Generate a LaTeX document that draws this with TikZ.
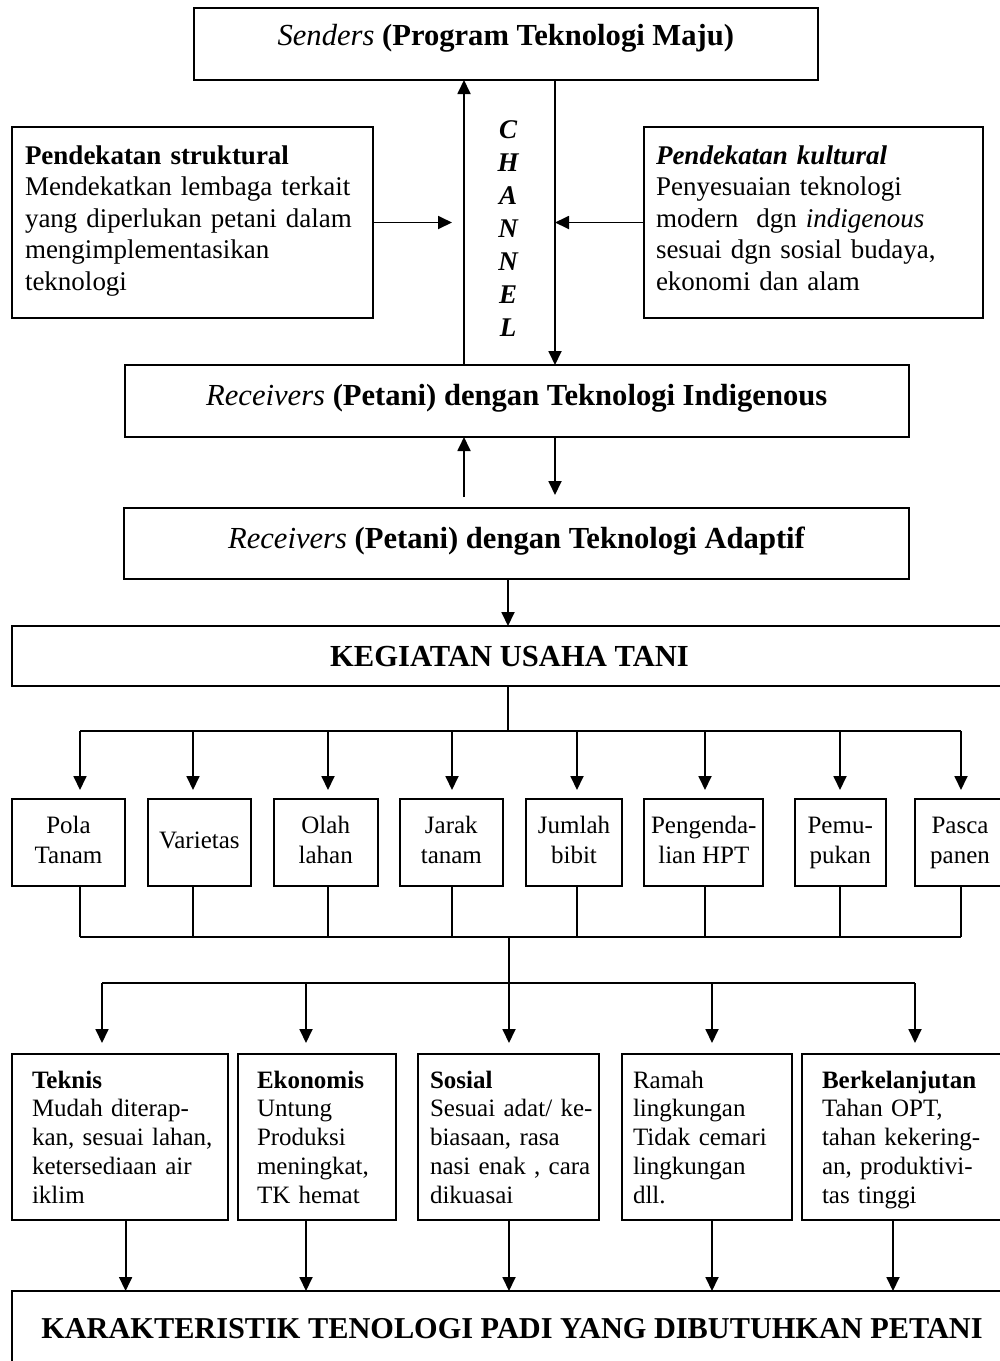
\documentclass[tikz,border=0pt]{standalone}
\usepackage{fontspec}
\setmainfont{Liberation Serif}
\usetikzlibrary{arrows.meta}
\newcommand\hstr[1]{\rule{0pt}{#1}}
\newcommand\dstr[1]{\rule[-#1]{0pt}{#1}}
\newcommand\ml[1]{\mbox{#1}}
\begin{document}
\begin{tikzpicture}[x=1pt,y=-1pt,
  bx/.style={draw, line width=2pt, inner sep=0pt, outer sep=0pt},
  hd/.style={bx, font=\fontsize{30.6}{34}\selectfont\bfseries, text height=21pt},
  sd/.style={bx, font=\fontsize{27}{31.5}\selectfont, align=left, minimum height=191pt},
  sm/.style={bx, font=\fontsize{25}{30}\selectfont, align=center, minimum height=87pt},
  bt/.style={bx, font=\fontsize{25}{28.75}\selectfont, align=left, minimum height=166pt},
  ln/.style={line width=1.8pt},
  arr/.style={ln, -{Triangle[length=14pt,width=13pt]}},
]
\useasboundingbox (0,0) rectangle (1000,1361);
\clip (0,0) rectangle (1000,1361);

% header boxes
\node[hd, text depth=19pt, minimum width=624.4pt, minimum height=72pt] (snd) at (505.8,44)
  {{\mdseries\itshape Senders} (Program Teknologi Maju)};
\node[hd, text depth=13pt, minimum width=784.5pt, minimum height=72pt] (ind) at (516.75,401)
  {{\mdseries\itshape Receivers} (Petani) dengan Teknologi Indigenous};
\node[hd, text depth=12pt, minimum width=785pt, minimum height=71pt] (adp) at (516.5,543.5)
  {{\mdseries\itshape Receivers} (Petani) dengan Teknologi Adaptif};
\node[hd, text depth=0pt, minimum width=996pt, minimum height=60pt] (keg) at (509.5,656)
  {KEGIATAN USAHA TANI};
\node[hd, font=\fontsize{30.3}{34}\selectfont\bfseries, text height=21pt, text depth=16pt,
  minimum width=1000pt, minimum height=89pt] (kar) at (512,1335.5)
  {KARAKTERISTIK TENOLOGI PADI YANG DIBUTUHKAN PETANI};

% side boxes
\node[sd, inner xsep=13pt, text width=335pt, minimum width=361pt] (lbox) at (192.5,222.5)
  {\hstr{22pt}\ml{\textbf{Pendekatan struktural}}\\ \ml{Mendekatkan lembaga terkait}\\
   \ml{yang diperlukan petani dalam}\\ \ml{mengimplementasikan}\\ \ml{teknologi}\dstr{13pt}};
\node[sd, inner xsep=12pt, text width=315pt, minimum width=339pt] (rbox) at (813.5,222.5)
  {\hstr{22pt}\ml{\textbf{\textit{Pendekatan kultural}}}\\ \ml{Penyesuaian teknologi}\\
   \ml{modern\ \ dgn \textit{indigenous}}\\ \ml{sesuai dgn sosial budaya,}\\ \ml{ekonomi dan alam}\dstr{13pt}};

% channel
\node[font=\fontsize{27}{33}\selectfont\bfseries\itshape, align=center, inner sep=0pt] (chn)
  at (508,229) {C\\H\\A\\N\\N\\E\\L};

% small boxes
\node[sm, minimum width=113.6pt] (s1) at (68.5,842.5) {\hstr{20pt}Pola\\Tanam\dstr{9pt}};
\node[sm, minimum width=103.3pt] (s2) at (199.35,842.5) {\hstr{20pt}Varietas\dstr{9pt}};
\node[sm, minimum width=104pt] (s3) at (325.7,842.5) {\hstr{20pt}Olah\\lahan\dstr{9pt}};
\node[sm, minimum width=103.3pt] (s4) at (451.35,842.5) {\hstr{20pt}Jarak\\tanam\dstr{9pt}};
\node[sm, minimum width=96pt] (s5) at (574,842.5) {\hstr{20pt}Jumlah\\bibit\dstr{9pt}};
\node[sm, minimum width=119pt] (s6) at (703.8,842.5) {\hstr{20pt}Pengenda-\\lian HPT\dstr{9pt}};
\node[sm, minimum width=91pt] (s7) at (840.2,842.5) {\hstr{20pt}Pemu-\\pukan\dstr{9pt}};
\node[sm, minimum width=90pt] (s8) at (960,842.5) {\hstr{20pt}Pasca\\panen\dstr{9pt}};

% bottom boxes
\node[bt, inner xsep=20pt, text width=176pt, minimum width=216pt] (b1) at (120,1137)
  {\hstr{23pt}\ml{\textbf{Teknis}}\\ \ml{Mudah diterap-}\\ \ml{kan, sesuai lahan,}\\ \ml{ketersediaan air}\\ \ml{iklim}\dstr{6pt}};
\node[bt, inner xsep=19pt, text width=120pt, minimum width=158pt] (b2) at (317,1137)
  {\hstr{23pt}\ml{\textbf{Ekonomis}}\\ \ml{Untung}\\ \ml{Produksi}\\ \ml{meningkat,}\\ \ml{TK hemat}\dstr{6pt}};
\node[bt, inner xsep=12pt, text width=157pt, minimum width=181pt] (b3) at (508.5,1137)
  {\hstr{23pt}\ml{\textbf{Sosial}}\\ \ml{Sesuai adat/ ke-}\\ \ml{biasaan, rasa}\\ \ml{nasi enak , cara}\\ \ml{dikuasai}\dstr{6pt}};
\node[bt, inner xsep=11pt, text width=148pt, minimum width=170pt] (b4) at (707,1137)
  {\hstr{23pt}\ml{Ramah}\\ \ml{lingkungan}\\ \ml{Tidak cemari}\\ \ml{lingkungan}\\ \ml{dll.}\dstr{6pt}};
\node[bt, inner xsep=20pt, text width=168pt, minimum width=208pt] (b5) at (906,1137)
  {\hstr{23pt}\ml{\textbf{Berkelanjutan}}\\ \ml{Tahan OPT,}\\ \ml{tahan kekering-}\\ \ml{an, produktivi-}\\ \ml{tas tinggi}\dstr{6pt}};

% channel connectors
\coordinate (cu) at (464,0);
\coordinate (cd) at (555,0);
\coordinate (lt) at (452,0);
\draw[arr] (ind.north -| cu) -- (snd.south -| cu);
\draw[arr] (snd.south -| cd) -- (ind.north -| cd);
\draw[arr] (lbox.east) -- (lbox.east -| lt);
\draw[arr] (rbox.west) -- (rbox.west -| cd);
\draw[arr, shorten <=11pt] (adp.north -| cu) -- (ind.south -| cu);
\draw[arr, shorten >=13pt] (ind.south -| cd) -- (adp.north -| cd);

% to kegiatan
\coordinate (m1) at (508,0);
\draw[arr] (adp.south -| m1) -- (keg.north -| m1);

% distribution to small boxes
\coordinate (bar1) at (0,731);
\draw[ln] (keg.south -| m1) -- (bar1 -| m1);
\foreach \i/\x in {1/80,2/193,3/328,4/452,5/577,6/705,7/840,8/961}{
  \coordinate (t\i) at (\x,731);
  \coordinate (u\i) at (\x,937);
}
\draw[ln] (t1) -- (t8);
\draw[ln] (u1) -- (u8);
\foreach \i in {1,...,8}{
  \draw[arr, shorten >=9pt] (t\i) -- (t\i |- s\i.north);
  \draw[ln] (t\i |- s\i.south) -- (u\i);
}

% distribution to bottom boxes
\coordinate (uc) at (509,937);
\draw[arr, shorten >=11pt] (uc) -- (uc |- b3.north);
\foreach \i/\x in {1/102,2/306,4/712,5/915}{
  \coordinate (w\i) at (\x,983);
}
\draw[ln] (w1) -- (w5);
\foreach \i in {1,2,4,5}{
  \draw[arr, shorten >=11pt] (w\i) -- (w\i |- b\i.north);
}

% bottom boxes to karakteristik
\foreach \i/\x in {1/125.6,2/306,3/509,4/712,5/893}{
  \coordinate (z\i) at (\x,0);
  \draw[arr] (b\i.south -| z\i) -- (kar.north -| z\i);
}
\end{tikzpicture}
\end{document}
